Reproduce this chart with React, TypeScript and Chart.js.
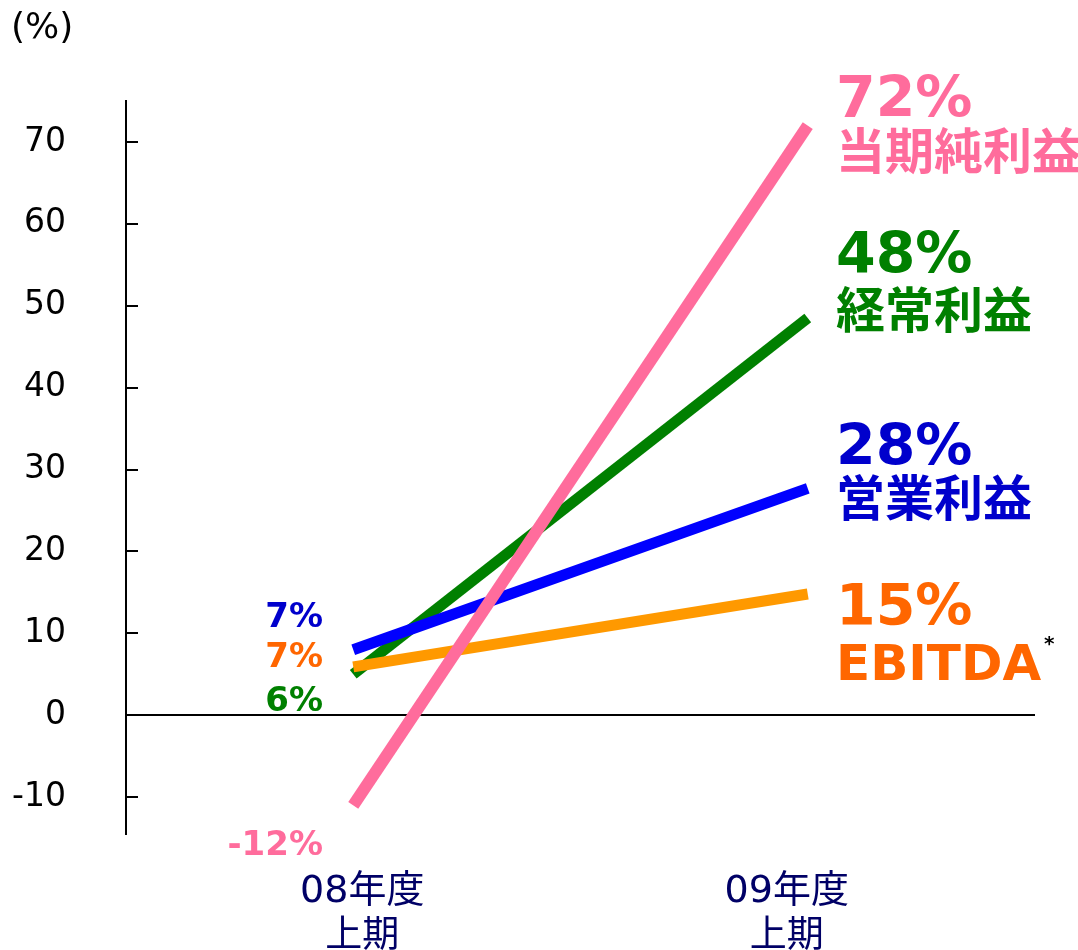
import React, { useEffect, useRef } from 'react';
import { Chart, registerables } from 'chart.js';

Chart.register(...registerables);

// ---- data ----
const categories: string[][] = [['08年度', '上期'], ['09年度', '上期']];
const netIncome = [-11, 72];        // 当期純利益
const ordinaryIncome = [5, 48.5];   // 経常利益
const operatingIncome = [8, 27.7];  // 営業利益
const ebitda = [5.9, 14.8];         // EBITDA
const yTicks = [-10, 0, 10, 20, 30, 40, 50, 60, 70];
const seriesNames = ['当期純利益', '経常利益', '営業利益', 'EBITDA'];
const startLabels = ['-12%', '6%', '7%', '7%'];
const endLabels = ['72%', '48%', '28%', '15%'];
const unitLabel = '(%)';

// ---- styles ----
const lineColors = ['#FF6C9C', '#008000', '#0000FF', '#FF9900'];
const textColors = ['#FF6C9C', '#008000', '#0000CC', '#FF6600'];
const navy = '#000066';

// text placement (pixels)
const endLabelX = 836;
const endValueBaselines = [117, 273, 465, 625];
const endNameBaselines = [169, 328, 516, 680];
const endNameSizes = [49, 49, 49, 50];
const startLabelRight = 323;
const startBaselines = [855, 711, 627, 667];
const categoryShift = [9, -21];

const overlay = {
  id: 'overlay',
  afterDraw(chart: any) {
    const ctx = chart.ctx as CanvasRenderingContext2D;
    const y = chart.scales.y;
    const x = chart.scales.x;
    const area = chart.chartArea;
    ctx.save();
    // inward tick marks
    ctx.strokeStyle = '#000';
    ctx.lineWidth = 2;
    yTicks.forEach((v) => {
      const py = Math.round(y.getPixelForValue(v));
      ctx.beginPath();
      ctx.moveTo(area.left, py);
      ctx.lineTo(area.left + 12, py);
      ctx.stroke();
    });
    // unit label
    ctx.fillStyle = '#000';
    ctx.textAlign = 'left';
    ctx.textBaseline = 'alphabetic';
    ctx.font = "36px 'DejaVu Sans'";
    ctx.fillText(unitLabel, 11, 38);

    // category labels
    ctx.fillStyle = navy;
    ctx.textAlign = 'center';
    categories.forEach((lines, i) => {
      const cx = x.getPixelForValue(i) + categoryShift[i];
      ctx.font = "38px 'DejaVu Sans', 'Noto Sans CJK JP'";
      ctx.fillText(lines[0], cx, 902);
      ctx.font = "37px 'Noto Sans CJK JP'";
      ctx.fillText(lines[1], cx, 947);
    });

    // start labels
    ctx.textAlign = 'right';
    ctx.font = "bold 34px 'DejaVu Sans'";
    startLabels.forEach((t, i) => {
      ctx.fillStyle = textColors[i];
      ctx.fillText(t, startLabelRight, startBaselines[i]);
    });

    // end labels
    ctx.textAlign = 'left';
    endLabels.forEach((t, i) => {
      ctx.fillStyle = textColors[i];
      ctx.font = "bold 57px 'DejaVu Sans'";
      ctx.fillText(t, endLabelX, endValueBaselines[i]);
      ctx.font = i === 3
        ? `bold ${endNameSizes[i]}px 'DejaVu Sans'`
        : `bold ${endNameSizes[i]}px 'Noto Sans CJK JP'`;
      ctx.fillText(seriesNames[i], endLabelX, endNameBaselines[i]);
    });
    // asterisk
    ctx.fillStyle = '#000';
    ctx.font = "bold 20px 'DejaVu Sans'";
    ctx.fillText('*', 1044, 650);
    ctx.restore();
  },
};

export default function App() {
  const ref = useRef<HTMLCanvasElement | null>(null);
  useEffect(() => {
    if (!ref.current) return;
    const seriesData = [netIncome, ordinaryIncome, operatingIncome, ebitda];
    const drawOrder = [0, 3, 2, 1];
    const chart = new Chart(ref.current, {
      type: 'line',
      data: {
        labels: categories as any,
        datasets: seriesData.map((d, i) => ({
          label: seriesNames[i],
          data: d,
          borderColor: lineColors[i],
          backgroundColor: lineColors[i],
          borderWidth: i === 0 ? 12 : 11,
          borderCapStyle: 'butt' as const,
          pointRadius: 0,
          tension: 0,
          fill: false,
          order: drawOrder[i],
        })),
      },
      options: {
        animation: false,
        responsive: false,
        devicePixelRatio: 1,
        layout: { padding: { top: 101, right: 43, bottom: 116, left: 0 } },
        plugins: { legend: { display: false }, tooltip: { enabled: false } },
        scales: {
          x: { type: 'category', offset: true, display: false },
          y: {
            type: 'linear',
            min: -14.5,
            max: 75,
            afterBuildTicks: (s: any) => {
              s.ticks = yTicks.map((v) => ({ value: v }));
            },
            afterFit: (s: any) => {
              s.width = 126;
            },
            grid: {
              drawTicks: false,
              lineWidth: 2,
              color: (c: any) => (c.tick && c.tick.value === 0 ? '#000' : 'rgba(0,0,0,0)'),
            },
            border: { display: true, color: '#000', width: 2 },
            ticks: {
              padding: 60,
              color: '#000',
              font: { family: 'DejaVu Sans', size: 33 },
            },
          },
        },
      },
      plugins: [overlay],
    });
    return () => chart.destroy();
  }, []);
  return (
    <div style={{ position: 'absolute', left: 0, top: 0, width: 1078, height: 950, background: '#fff' }}>
      <canvas ref={ref} width={1078} height={950} style={{ display: 'block' }} />
    </div>
  );
}
